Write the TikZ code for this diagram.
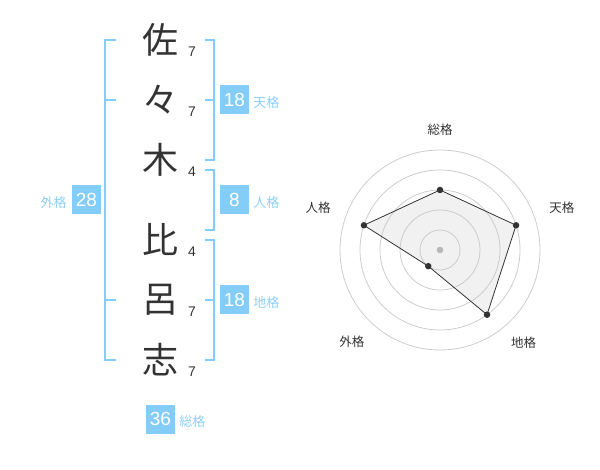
\documentclass[tikz,border=0pt]{standalone}
\usepackage{fontspec}
\setmainfont{Liberation Sans}
\newfontfamily\cjk{Noto Sans CJK JP}
\usepackage{tikz}
\usetikzlibrary{positioning}
\definecolor{kakublue}{HTML}{84CDF9}
\definecolor{kakutext}{HTML}{8CCFF7}
\definecolor{inkgray}{HTML}{333333}
\definecolor{ringgray}{HTML}{CCCCCC}
\definecolor{areagray}{HTML}{F1F1F1}
\tikzstyle{kanji} = [inner sep=0, text=inkgray, font=\cjk\fontsize{36}{36}\selectfont]
\tikzstyle{strokenum} = [inner sep=0, text=inkgray, font=\fontsize{14}{14}\selectfont]
\tikzstyle{kakubox} = [fill=kakublue, text=white, minimum size=29pt, inner sep=0,
    font=\fontsize{19}{19}\selectfont]
\tikzstyle{kakuname} = [inner sep=0, text=kakutext, font=\cjk\fontsize{13}{13}\selectfont]
\tikzstyle{bracket} = [draw=kakublue, line width=2pt]
\tikzstyle{axisname} = [inner sep=0, text=inkgray, font=\cjk\fontsize{12.5}{12.5}\selectfont]
\tikzstyle{vertex} = [circle, fill=inkgray, inner sep=0, minimum size=6.5pt]

\begin{document}
\begin{tikzpicture}[x=1pt, y=-1pt]
    \useasboundingbox (0,0) rectangle (600,470);
    % We start by placing the name and the strokes
    \foreach \k/\y/\n [count=\i] in {佐/40/7, 々/100/7, 木/160/4, 比/240/4, 呂/300/7, 志/360/7} {
        \node [kanji] (k\i) at (160,\y) {\k};
        \node [strokenum] (s\i) at (192,\y+12) {\n};
    }
    \draw [bracket] (116,40) -- (105,40) -- (105,360) -- (116,360);
    \draw [bracket] (105,100) -- (116,100) (105,300) -- (116,300);
    \draw [bracket] (205,40) -- (214,40) -- (214,160) -- (205,160) (205,100) -- (214,100);
    \draw [bracket] (205,170) -- (214,170) -- (214,230) -- (205,230);
    \draw [bracket] (205,240) -- (214,240) -- (214,360) -- (205,360) (205,300) -- (214,300);
    \node [kakubox] (ten) at (234.5,100) {18};
    \node [kakuname, right=4pt of ten, yshift=-3pt] (tenname) {天格};
    \node [kakubox] (jin) at (234.5,200) {8};
    \node [kakuname, right=4pt of jin, yshift=-3pt] (jinname) {人格};
    \node [kakubox] (chi) at (234.5,300) {18};
    \node [kakuname, right=4pt of chi, yshift=-3pt] (chiname) {地格};
    \node [kakubox] (gai) at (86.5,200) {28};
    \node [kakuname, left=5pt of gai, yshift=-3pt] (gainame) {外格};
    \node [kakubox] (sou) at (160.5,419) {36};
    \node [kakuname, right=4pt of sou, yshift=-3pt] (souname) {総格};
    % Radar chart
    \coordinate (c) at (440,250);
    \coordinate (rsou) at ([shift={(-90:60)}]c);
    \coordinate (rten) at ([shift={(-18:80)}]c);
    \coordinate (rchi) at ([shift={(54:80)}]c);
    \coordinate (rgai) at ([shift={(126:20)}]c);
    \coordinate (rjin) at ([shift={(198:80)}]c);
    \fill [areagray] (rsou) -- (rten) -- (rchi) -- (rgai) -- (rjin) -- cycle;
    \foreach \r in {20,40,...,100}
        \draw [ringgray, line width=0.8pt] (c) circle [radius=\r];
    \fill [ringgray!90!black] (c) circle [radius=3.3];
    \draw [inkgray, line width=0.8pt] (rsou) -- (rten) -- (rchi) -- (rgai) -- (rjin) -- cycle;
    \foreach \p in {rsou,rten,rchi,rgai,rjin}
        \node [vertex] (dot-\p) at (\p) {};
    \node [axisname] (lsou) at ([shift={(-90:120)}]c) {総格};
    \node [axisname] (lten) at ([shift={(-19:129)}]c) {天格};
    \node [axisname] (lchi) at ([shift={(48:125)}]c) {地格};
    \node [axisname] (lgai) at ([shift={(134:127)}]c) {外格};
    \node [axisname] (ljin) at ([shift={(199:129)}]c) {人格};
\end{tikzpicture}
\end{document}
